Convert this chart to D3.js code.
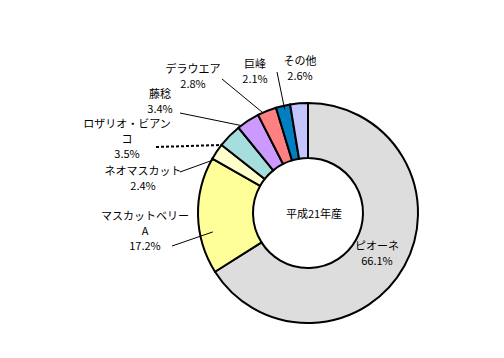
<!DOCTYPE html>
<html lang="ja">

<head>
    <meta charset="UTF-8" />
    <title>ぶどう品種別構成比</title>
    <script src="https://d3js.org/d3.v7.min.js"></script>
    <style>
        body {
            margin: 0;
            background: #fff;
        }
        text {
            font-family: "Noto Sans CJK JP", "Noto Sans", sans-serif;
            font-size: 11px;
            fill: #000;
        }
    </style>
</head>

<body>
    <div id="chart"></div>

    <script>
        // data
        var varieties = ["ピオーネ", "マスカットベリーA", "ネオマスカット", "ロザリオ・ビアンコ", "藤稔", "デラウエア", "巨峰", "その他"];
        var shares = [66.1, 17.2, 2.4, 3.5, 3.4, 2.8, 2.1, 2.6];
        var shareLabels = ["66.1%", "17.2%", "2.4%", "3.5%", "3.4%", "2.8%", "2.1%", "2.6%"];
        // label text split into lines as in the original
        var nameLines = [["ピオーネ"], ["マスカットベリー", "A"], ["ネオマスカット"], ["ロザリオ・ビアン", "コ"], ["藤稔"], ["デラウエア"], ["巨峰"], ["その他"]];
        var colors = ["#dddddd", "#ffff99", "#ffffcc", "#a6dede", "#cc99ff", "#ff8080", "#0080c0", "#c4c4ff"];
        var centerTitle = "平成21年産";

        var w = 504, h = 358;
        var cx = 308, cy = 213;
        var outerR = 110, innerR = 55;

        // label layout: text centre x, first baseline, leader start, where the leader meets the slice (t along slice, radius)
        var labelLayout = [
            { x: 377, y: 250, line: null },
            { x: 145, y: 220, line: { x: 172, y: 246, t: 0.34, r: 97, dash: false } },
            { x: 143, y: 175, line: { x: 180, y: 172, t: 0.0, r: 108, dash: false } },
            { x: 127, y: 128, line: { x: 156, y: 147, t: 0.0, r: 110, dash: true } },
            { x: 160, y: 98, line: { x: 180, y: 113, t: 0.15, r: 110, dash: false } },
            { x: 193, y: 73, line: { x: 222, y: 79, t: 0.27, r: 110, dash: false } },
            { x: 255, y: 68, line: { x: 277, y: 72, t: 0.56, r: 106, dash: false } },
            { x: 300, y: 65, line: null }
        ];

        var svg = d3.select("#chart")
            .append("svg")
            .attr("width", w)
            .attr("height", h);

        var pie = d3.pie()
            .sort(null)
            .value(function(d) { return d; });

        var arcs = pie(shares);

        var arc = d3.arc()
            .innerRadius(innerR)
            .outerRadius(outerR);

        var g = svg.append("g")
            .attr("transform", "translate(" + cx + "," + cy + ")");

        // slices
        g.selectAll("path")
            .data(arcs)
            .enter()
            .append("path")
            .attr("d", arc)
            .attr("fill", function(d, i) { return colors[i]; })
            .attr("stroke", "#000")
            .attr("stroke-width", 2)
            .attr("stroke-linejoin", "miter");

        // leader lines
        arcs.forEach(function(d, i) {
            var L = labelLayout[i].line;
            if (!L) return;
            var a = d.startAngle + L.t * (d.endAngle - d.startAngle);
            var ex = cx + L.r * Math.sin(a);
            var ey = cy - L.r * Math.cos(a);
            svg.append("line")
                .attr("x1", L.x)
                .attr("y1", L.y)
                .attr("x2", ex)
                .attr("y2", ey)
                .attr("stroke", "#000")
                .attr("stroke-width", L.dash ? 2 : 1)
                .attr("stroke-dasharray", L.dash ? "3,2" : null);
        });

        // labels
        varieties.forEach(function(name, i) {
            var pos = labelLayout[i];
            var lines = nameLines[i].concat([shareLabels[i]]);
            var t = svg.append("text")
                .attr("text-anchor", "middle");
            lines.forEach(function(s, k) {
                t.append("tspan")
                    .attr("x", pos.x)
                    .attr("y", pos.y + k * 15)
                    .text(s);
            });
        });

        // centre title
        svg.append("text")
            .attr("x", cx + 6)
            .attr("y", cy + 5)
            .attr("text-anchor", "middle")
            .text(centerTitle);
    </script>
</body>

</html>
